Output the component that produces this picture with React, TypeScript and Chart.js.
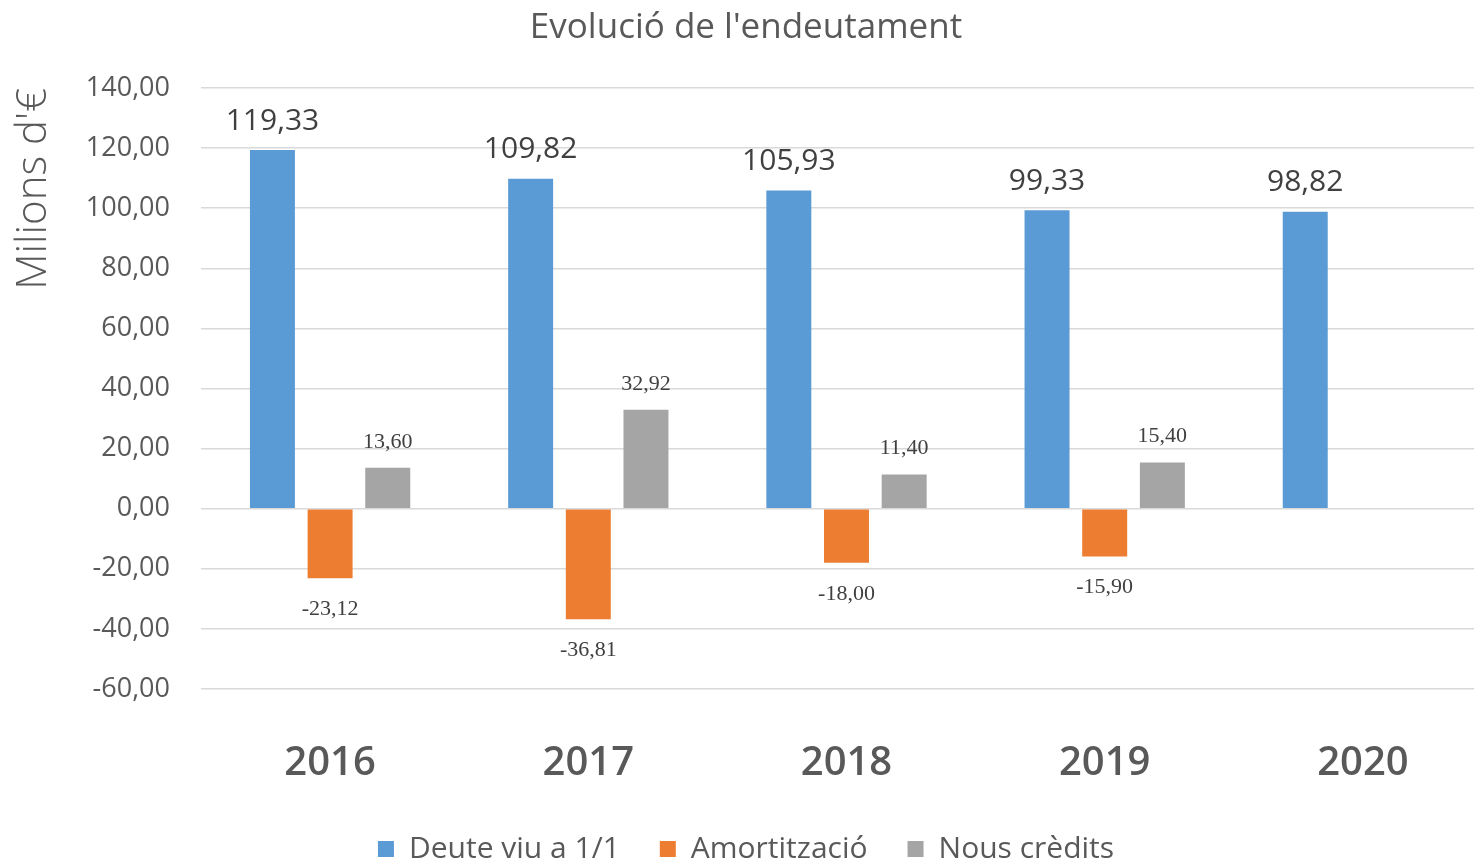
import React, { useEffect, useRef } from "react";
import { Chart, registerables } from "chart.js";

Chart.register(...registerables);

const years = ["2016", "2017", "2018", "2019", "2020"];
const deuteViu = [119.33, 109.82, 105.93, 99.33, 98.82];
const amortitzacio = [-23.12, -36.81, -18.0, -15.9, null];
const nousCredits = [13.6, 32.92, 11.4, 15.4, null];
const seriesNames = ["Deute viu a 1/1", "Amortització", "Nous crèdits"];
const chartTitle = "Evolució de l'endeutament";
const yAxisTitle = "Milions d'€";

const fmt = (v: number) => v.toFixed(2).replace(".", ",");

const labelStyles = [
  { font: "30px 'Open Sans'", color: "#404040", offset: 29 },
  { font: "22px 'Liberation Serif'", color: "#404040", offset: 31 },
  { font: "22px 'Liberation Serif'", color: "#404040", offset: 26 },
];

const valueLabels = {
  id: "valueLabels",
  afterDatasetsDraw(chart: any) {
    const ctx = chart.ctx;
    chart.data.datasets.forEach((ds: any, di: number) => {
      const meta = chart.getDatasetMeta(di);
      meta.data.forEach((el: any, i: number) => {
        const v = ds.data[i];
        if (v === null || v === undefined) return;
        const st = labelStyles[di];
        ctx.save();
        ctx.font = st.font;
        ctx.fillStyle = st.color;
        ctx.textAlign = "center";
        ctx.textBaseline = "middle";
        const y = v >= 0 ? el.y - st.offset : el.y + st.offset;
        ctx.fillText(fmt(v), el.x, y);
        ctx.restore();
      });
    });
  },
};

export default function App() {
  const ref = useRef<HTMLCanvasElement | null>(null);

  useEffect(() => {
    if (!ref.current) return;
    const barCommon = { categoryPercentage: 0.67, barPercentage: 0.78 };
    const chart = new Chart(ref.current, {
      type: "bar",
      data: {
        labels: years,
        datasets: [
          { label: seriesNames[0], data: deuteViu, backgroundColor: "#5B9BD5", ...barCommon },
          { label: seriesNames[1], data: amortitzacio, backgroundColor: "#ED7D31", ...barCommon },
          { label: seriesNames[2], data: nousCredits, backgroundColor: "#A5A5A5", ...barCommon },
        ],
      },
      options: {
        responsive: false,
        animation: false,
        layout: { padding: { top: 0, left: 0, right: 0, bottom: 0 } },
        plugins: {
          tooltip: { enabled: false },
          title: {
            display: true,
            text: chartTitle,
            color: "#595959",
            font: { family: "'Open Sans'", size: 35, weight: "normal" },
            padding: { top: 7, bottom: 39 },
          },
          legend: {
            position: "bottom",
            maxHeight: 70,
            labels: {
              color: "#595959",
              font: { family: "'Open Sans'", size: 30 },
              boxWidth: 16,
              boxHeight: 16,
              padding: 40,
            },
          },
        },
        scales: {
          x: {
            grid: { display: false },
            border: { display: false },
            ticks: {
              color: "#595959",
              font: { family: "'Open Sans'", size: 40, weight: "600" },
              padding: 43,
            },
            afterFit: (scale: any) => {
              scale.height = 105;
            },
          },
          y: {
            min: -60,
            max: 140,
            border: { display: false },
            grid: { color: "#D9D9D9", lineWidth: 1.5, drawTicks: false },
            ticks: {
              stepSize: 20,
              color: "#595959",
              font: { family: "'Open Sans'", size: 27 },
              padding: 31,
              callback: (v: any) => fmt(Number(v)),
            },
            title: {
              display: true,
              text: yAxisTitle,
              align: "end",
              color: "#595959",
              font: { family: "'Open Sans'", size: 42, weight: "300" },
              padding: { top: 9, bottom: 0 },
            },
            afterFit: (scale: any) => {
              scale.width = 201;
            },
          },
        },
      },
      plugins: [valueLabels],
    } as any);
    return () => chart.destroy();
  }, []);

  return (
    <div
      style={{
        position: "fixed",
        left: 0,
        top: 0,
        width: 1474,
        height: 864,
        overflow: "hidden",
        background: "#ffffff",
      }}
    >
      <canvas ref={ref} width={1492} height={864} style={{ display: "block" }} />
    </div>
  );
}
